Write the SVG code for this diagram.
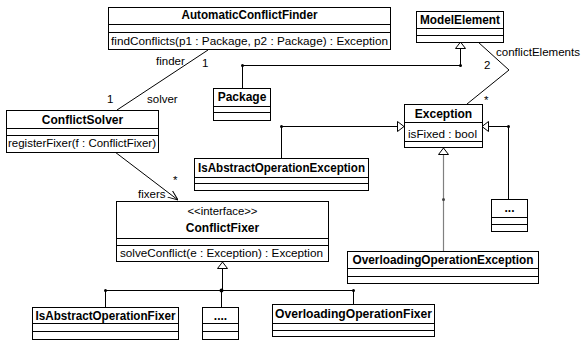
<svg xmlns="http://www.w3.org/2000/svg" width="581" height="344" viewBox="0 0 581 344">
<style>
  .box { fill: #fff; stroke: #000; stroke-width: 1; }
  .sep { stroke: #000; stroke-width: 1; }
  .ln { fill: none; stroke: #000; stroke-width: 1; }
  .gray { fill: none; stroke: #808080; stroke-width: 1.2; }
  .tri { fill: #fff; stroke: #000; stroke-width: 1; }
  .dot { fill: #000; }
  .t { font-family: "Liberation Sans", Arial, sans-serif; font-size: 12px; font-weight: bold; fill: #000; text-anchor: middle; }
  .n { font-family: "Liberation Sans", Arial, sans-serif; font-size: 11.5px; fill: #000; }
  .c { text-anchor: middle; }
</style>
<defs>
  <marker id="open" viewBox="0 0 10 10" refX="10" refY="5" markerWidth="10" markerHeight="10" markerUnits="userSpaceOnUse" orient="auto">
    <path d="M0,1 L10,5 L0,9" fill="none" stroke="#000" stroke-width="1"/>
  </marker>
</defs>

<g id="connectors">
  <!-- finder / solver association -->
  <line class="ln" x1="208" y1="50" x2="117" y2="110"/>
  <!-- solver -> fixers -->
  <line class="ln" x1="115" y1="152" x2="178" y2="200" marker-end="url(#open)"/>
  <!-- conflictElements -->
  <polyline class="ln" points="478,42 509,70 467,104"/>
  <!-- Package -> ModelElement generalization -->
  <polyline class="ln" points="242.5,88 242.5,65.5 460.5,65.5 460.5,48"/>
  <polygon class="tri" points="460.5,42 455.5,48.5 465.5,48.5"/>
  <circle class="dot" cx="242.5" cy="65.5" r="1.5"/>
  <circle class="dot" cx="460.5" cy="65.5" r="1.5"/>
  <!-- IsAbstractOperationException -> Exception -->
  <polyline class="ln" points="281.5,158 281.5,126.5 397.5,126.5"/>
  <polygon class="tri" points="404,126.5 397.5,121.5 397.5,131.5"/>
  <circle class="dot" cx="281.5" cy="126.5" r="1.5"/>
  <!-- ... -> Exception -->
  <polyline class="ln" points="508.5,199 508.5,126.5 488.5,126.5"/>
  <polygon class="tri" points="482,126.5 488.5,121.5 488.5,131.5"/>
  <circle class="dot" cx="508.5" cy="126.5" r="1.5"/>
  <!-- OverloadingOperationException -> Exception -->
  <line class="gray" x1="443.5" y1="155" x2="443.5" y2="251"/>
  <polygon class="tri" points="443.5,148 438.5,154.5 448.5,154.5"/>
  <circle cx="443.5" cy="199.5" r="1.5" fill="#444"/>
  <!-- fixers -> ConflictFixer -->
  <polyline class="ln" points="222.5,268 222.5,290.5"/>
  <polygon class="tri" points="222.5,262 217.5,268.5 227.5,268.5"/>
  <line class="ln" x1="105.5" y1="290.5" x2="353.5" y2="290.5"/>
  <line class="ln" x1="105.5" y1="290.5" x2="105.5" y2="307"/>
  <line class="ln" x1="221.5" y1="290.5" x2="221.5" y2="307"/>
  <line class="ln" x1="353.5" y1="290.5" x2="353.5" y2="304"/>
  <circle class="dot" cx="105.5" cy="290.5" r="1.5"/>
  <circle class="dot" cx="221.5" cy="290.5" r="2"/>
  <circle class="dot" cx="353.5" cy="290.5" r="1.5"/>
  <!-- labels -->
  <text class="n" x="156" y="65">finder</text>
  <text class="n" x="202" y="67">1</text>
  <text class="n" x="107" y="103">1</text>
  <text class="n" x="147" y="103">solver</text>
  <text class="n" x="173" y="184">*</text>
  <text class="n" x="138" y="198">fixers</text>
  <text class="n" x="496" y="56" textLength="84" lengthAdjust="spacingAndGlyphs">conflictElements</text>
  <text class="n" x="484" y="69">2</text>
  <text class="n" x="484" y="104">*</text>
</g>

<g id="AutomaticConflictFinder">
  <rect class="box" x="108.5" y="7.5" width="282" height="42"/>
  <line class="sep" x1="108.5" y1="24.5" x2="390.5" y2="24.5"/>
  <line class="sep" x1="108.5" y1="32.5" x2="390.5" y2="32.5"/>
  <text class="t" x="249.5" y="19" textLength="136" lengthAdjust="spacingAndGlyphs">AutomaticConflictFinder</text>
  <text class="n" x="111" y="45" textLength="277" lengthAdjust="spacingAndGlyphs">findConflicts(p1 : Package, p2 : Package) : Exception</text>
</g>

<g id="ModelElement">
  <rect class="box" x="416.5" y="11.5" width="87" height="31"/>
  <line class="sep" x1="416.5" y1="28.5" x2="503.5" y2="28.5"/>
  <line class="sep" x1="416.5" y1="35.5" x2="503.5" y2="35.5"/>
  <text class="t" x="460" y="24" textLength="80" lengthAdjust="spacingAndGlyphs">ModelElement</text>
</g>

<g id="Package">
  <rect class="box" x="213.5" y="88.5" width="57" height="32"/>
  <line class="sep" x1="213.5" y1="106.5" x2="270.5" y2="106.5"/>
  <line class="sep" x1="213.5" y1="112.5" x2="270.5" y2="112.5"/>
  <text class="t" x="242" y="101">Package</text>
</g>

<g id="ConflictSolver">
  <rect class="box" x="6.5" y="110.5" width="152" height="42"/>
  <line class="sep" x1="6.5" y1="128.5" x2="158.5" y2="128.5"/>
  <line class="sep" x1="6.5" y1="135.5" x2="158.5" y2="135.5"/>
  <text class="t" x="82.5" y="124">ConflictSolver</text>
  <text class="n" x="8" y="147" textLength="148" lengthAdjust="spacingAndGlyphs">registerFixer(f : ConflictFixer)</text>
</g>

<g id="Exception">
  <rect class="box" x="404.5" y="104.5" width="78" height="43"/>
  <line class="sep" x1="404.5" y1="122.5" x2="482.5" y2="122.5"/>
  <line class="sep" x1="404.5" y1="141.5" x2="482.5" y2="141.5"/>
  <text class="t" x="443.5" y="118">Exception</text>
  <text class="n" x="408" y="138" textLength="69" lengthAdjust="spacingAndGlyphs">isFixed : bool</text>
</g>

<g id="IsAbstractOperationException">
  <rect class="box" x="194.5" y="158.5" width="174" height="32"/>
  <line class="sep" x1="194.5" y1="177.5" x2="368.5" y2="177.5"/>
  <line class="sep" x1="194.5" y1="183.5" x2="368.5" y2="183.5"/>
  <text class="t" x="281.5" y="172" textLength="167" lengthAdjust="spacingAndGlyphs">IsAbstractOperationException</text>
</g>

<g id="Ellipsis3">
  <rect class="box" x="491.5" y="199.5" width="36" height="32"/>
  <line class="sep" x1="491.5" y1="217.5" x2="527.5" y2="217.5"/>
  <line class="sep" x1="491.5" y1="224.5" x2="527.5" y2="224.5"/>
  <text class="t" x="509.5" y="212">...</text>
</g>

<g id="OverloadingOperationException">
  <rect class="box" x="347.5" y="251.5" width="191" height="32"/>
  <line class="sep" x1="347.5" y1="268.5" x2="538.5" y2="268.5"/>
  <line class="sep" x1="347.5" y1="276.5" x2="538.5" y2="276.5"/>
  <text class="t" x="443" y="264" textLength="181" lengthAdjust="spacingAndGlyphs">OverloadingOperationException</text>
</g>

<g id="ConflictFixer">
  <rect class="box" x="116.5" y="201.5" width="212" height="60"/>
  <line class="sep" x1="116.5" y1="238.5" x2="328.5" y2="238.5"/>
  <line class="sep" x1="116.5" y1="245.5" x2="328.5" y2="245.5"/>
  <text class="n c" x="222.5" y="215" textLength="70" lengthAdjust="spacingAndGlyphs">&lt;&lt;interface&gt;&gt;</text>
  <text class="t" x="222.5" y="232">ConflictFixer</text>
  <text class="n" x="120" y="257" textLength="203" lengthAdjust="spacingAndGlyphs">solveConflict(e : Exception) : Exception</text>
</g>

<g id="IsAbstractOperationFixer">
  <rect class="box" x="32.5" y="307.5" width="146" height="32"/>
  <line class="sep" x1="32.5" y1="323.5" x2="178.5" y2="323.5"/>
  <line class="sep" x1="32.5" y1="331.5" x2="178.5" y2="331.5"/>
  <text class="t" x="105.5" y="320" textLength="140" lengthAdjust="spacingAndGlyphs">IsAbstractOperationFixer</text>
</g>

<g id="Ellipsis4">
  <rect class="box" x="202.5" y="307.5" width="36" height="32"/>
  <line class="sep" x1="202.5" y1="323.5" x2="238.5" y2="323.5"/>
  <line class="sep" x1="202.5" y1="331.5" x2="238.5" y2="331.5"/>
  <text class="t" x="220.5" y="320">....</text>
</g>

<g id="OverloadingOperationFixer">
  <rect class="box" x="272.5" y="304.5" width="162" height="32"/>
  <line class="sep" x1="272.5" y1="323.5" x2="434.5" y2="323.5"/>
  <line class="sep" x1="272.5" y1="330.5" x2="434.5" y2="330.5"/>
  <text class="t" x="353.5" y="318" textLength="157" lengthAdjust="spacingAndGlyphs">OverloadingOperationFixer</text>
</g>
</svg>
